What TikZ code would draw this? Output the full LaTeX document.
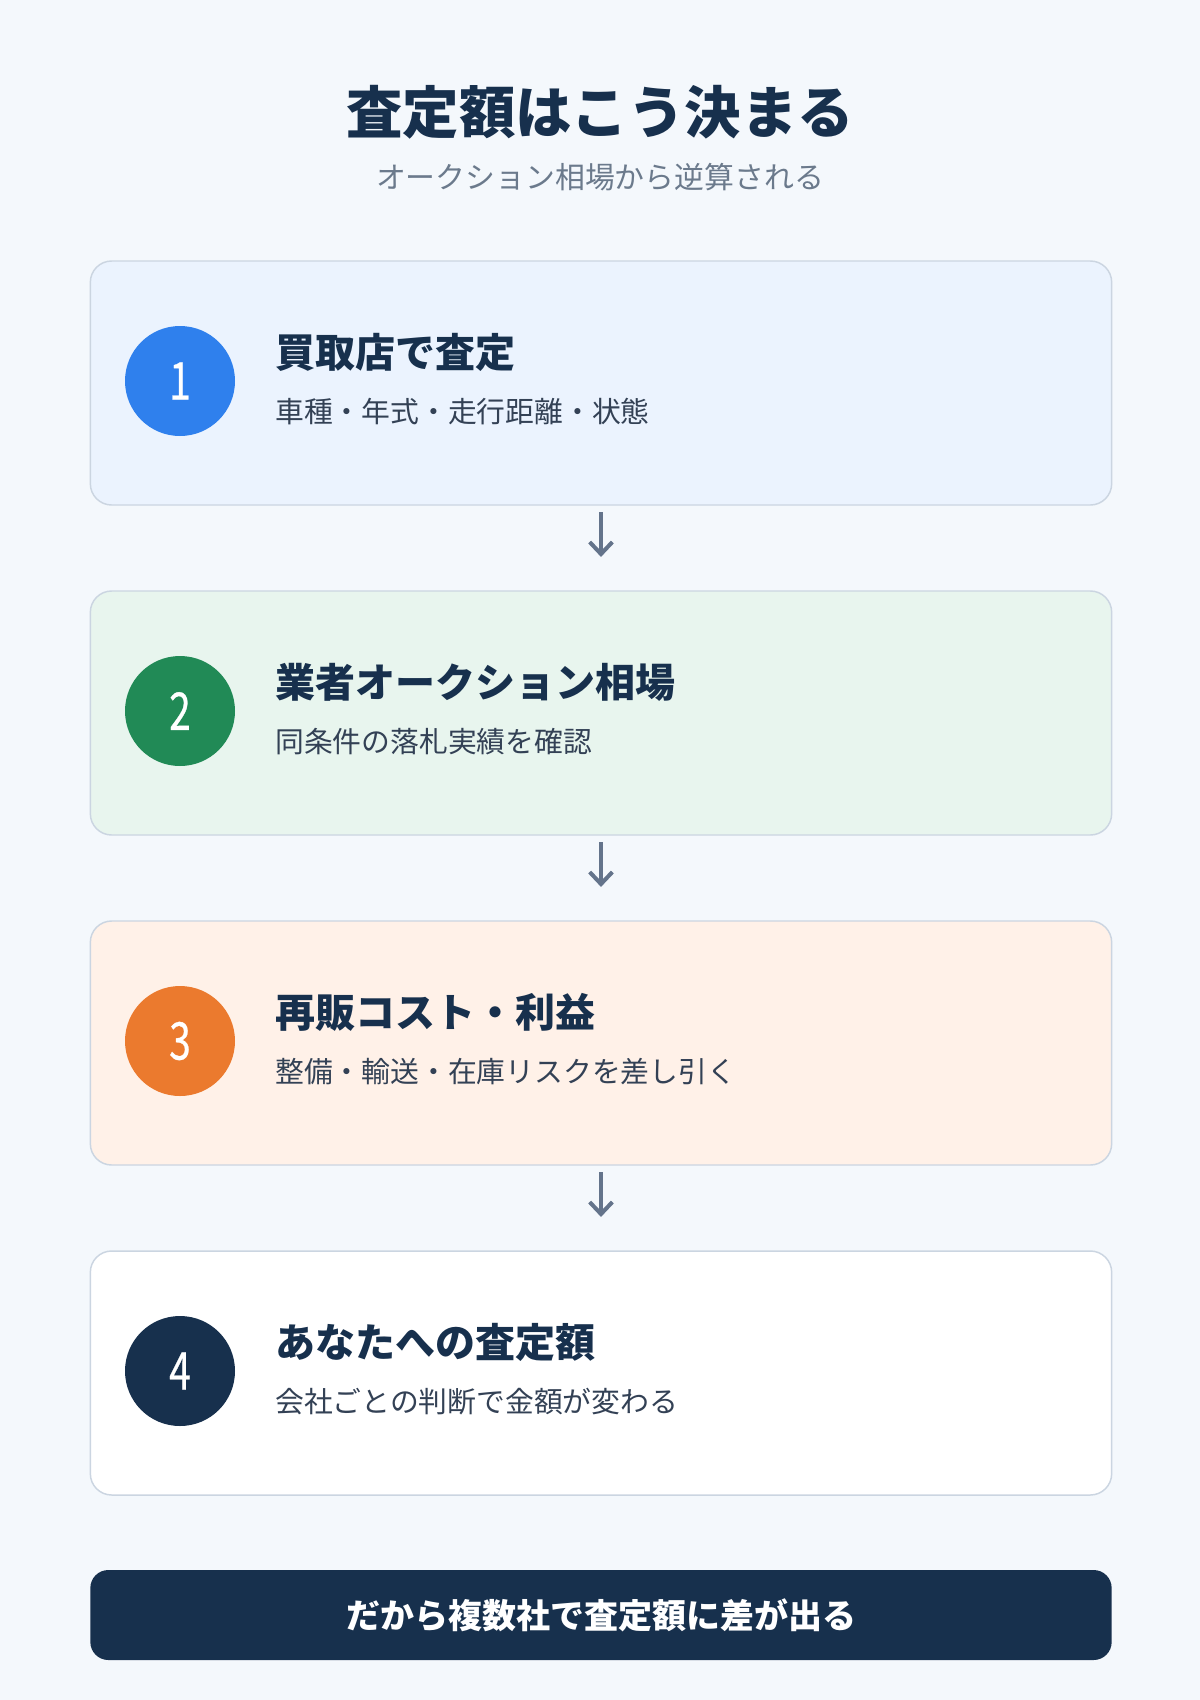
\documentclass[tikz,border=0pt]{standalone}
\usepackage{fontspec}
\usepackage{graphicx}
\usepackage{tikz}
\usetikzlibrary{arrows.meta}
\setmainfont{Noto Sans CJK JP}
\definecolor{ourbg}{HTML}{F4F8FC}
\definecolor{ournavy}{HTML}{17304D}
\definecolor{ourgray}{HTML}{6B7A8C}
\definecolor{oursub}{HTML}{334155}
\definecolor{ourline}{HTML}{CBD5E1}
\definecolor{ourarrow}{HTML}{64748B}
\definecolor{ourblue}{HTML}{2F80ED}
\definecolor{ourgreen}{HTML}{218A56}
\definecolor{ourorange}{HTML}{EB7A2E}
\definecolor{ourbluefill}{HTML}{EBF3FE}
\definecolor{ourgreenfill}{HTML}{E8F5EE}
\definecolor{ourorangefill}{HTML}{FFF1E8}
\newcommand{\narrow}[1]{\scalebox{0.75}[1]{#1}}

\begin{document}
\begin{tikzpicture}[x=0.75pt,y=-0.75pt]

  \tikzstyle{card}=[draw=ourline, line width=1.1pt, rounded corners=16pt, minimum width=766pt, minimum height=183pt]
  \tikzstyle{num}=[circle, minimum size=82.5pt, inner sep=0, text=white, font=\fontsize{39}{40}\selectfont\addfontfeature{FakeBold=0.6}]
  \tikzstyle{heading}=[anchor=west, inner sep=0, text=ournavy, font=\bfseries\fontsize{30}{32}\selectfont]
  \tikzstyle{detail}=[anchor=west, inner sep=0, text=oursub, font=\fontsize{21.6}{24}\selectfont]
  \tikzstyle{flow}=[-{Straight Barb[length=9pt,width=17pt]}, draw=ourarrow, line width=3pt, shorten <=5pt, shorten >=25pt]

  \fill[ourbg] (0,0) rectangle (1200,1700);
  \useasboundingbox (0,0) rectangle (1200,1700);

  \path
  (600,112) node[text=ournavy, font=\bfseries\fontsize{42.3}{44}\selectfont](title){査定額はこう決まる}
  (600,177) node[text=ourgray, font=\fontsize{22.4}{24}\selectfont](subtitle){オークション相場から逆算される};

  \path
  (601,383) node[card,fill=ourbluefill](b1){}
  (601,713) node[card,fill=ourgreenfill](b2){}
  (601,1043) node[card,fill=ourorangefill](b3){}
  (601,1373) node[card,fill=white](b4){};

  \path
  (180,381) node[num,fill=ourblue](n1){\narrow{1}}
  (180,711) node[num,fill=ourgreen](n2){\narrow{2}}
  (180,1041) node[num,fill=ourorange](n3){\narrow{3}}
  (180,1371) node[num,fill=ournavy](n4){\narrow{4}};

  \path
  (275,352) node[heading](h1){買取店で査定}
  (275,682) node[heading](h2){業者オークション相場}
  (275,1012) node[heading](h3){再販コスト・利益}
  (275,1342) node[heading](h4){あなたへの査定額};

  \path
  (275,412) node[detail](d1){車種・年式・走行距離・状態}
  (275,742) node[detail](d2){同条件の落札実績を確認}
  (275,1072) node[detail](d3){整備・輸送・在庫リスクを差し引く}
  (275,1402) node[detail](d4){会社ごとの判断で金額が変わる};

  \path
  (601,1615) node[fill=ournavy, rounded corners=13.5pt, minimum width=766pt, minimum height=67.5pt, text=white, font=\bfseries\fontsize{25.5}{28}\selectfont](result){だから複数社で査定額に差が出る};

  \draw[flow] (b1.south)--(b2.north);
  \draw[flow] (b2.south)--(b3.north);
  \draw[flow] (b3.south)--(b4.north);
\end{tikzpicture}
\end{document}
